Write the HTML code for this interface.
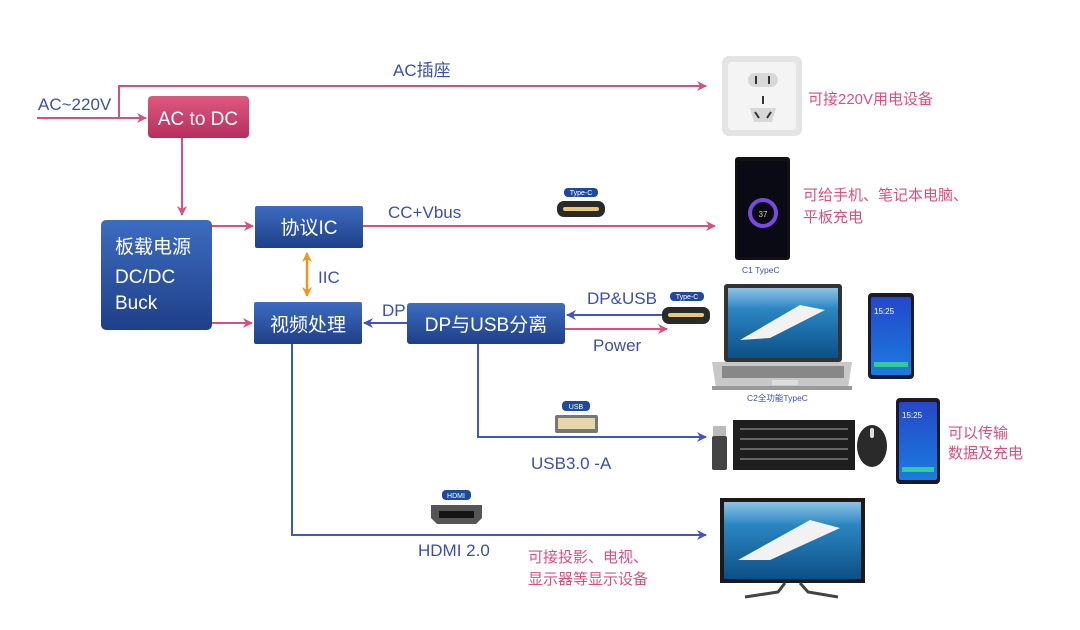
<!DOCTYPE html>
<html><head><meta charset="utf-8">
<style>
html,body{margin:0;padding:0;background:#fff;}
svg{display:block;}
text{font-family:"Liberation Sans","Noto Sans CJK SC",sans-serif;}
</style></head>
<body>
<svg width="1080" height="630" viewBox="0 0 1080 630" xmlns="http://www.w3.org/2000/svg">
<defs>
<linearGradient id="bl" x1="0" y1="0" x2="0" y2="1"><stop offset="0" stop-color="#3d6cc0"/><stop offset="1" stop-color="#1f3f88"/></linearGradient>
<linearGradient id="pk" x1="0" y1="0" x2="0" y2="1"><stop offset="0" stop-color="#e0587f"/><stop offset="1" stop-color="#b52f5e"/></linearGradient>
<linearGradient id="sea" x1="0" y1="0" x2="0" y2="1"><stop offset="0" stop-color="#8ec3e6"/><stop offset="0.3" stop-color="#2a86c2"/><stop offset="1" stop-color="#0d4f86"/></linearGradient>
<linearGradient id="ph" x1="0" y1="0" x2="0" y2="1"><stop offset="0" stop-color="#2448c8"/><stop offset="1" stop-color="#1b7be0"/></linearGradient>
<marker id="ap" markerWidth="10" markerHeight="10" refX="9" refY="5" orient="auto" markerUnits="userSpaceOnUse"><path d="M0,0 L10,5 L0,10 L3,5z" fill="#d9507e"/></marker>
<marker id="ab" markerWidth="10" markerHeight="10" refX="9" refY="5" orient="auto" markerUnits="userSpaceOnUse"><path d="M0,0 L10,5 L0,10 L3,5z" fill="#4256c0"/></marker>
<marker id="ao" markerWidth="10" markerHeight="10" refX="9" refY="5" orient="auto" markerUnits="userSpaceOnUse"><path d="M0,0 L10,5 L0,10 L3,5z" fill="#f0961e"/></marker>
</defs>

<!-- pink lines -->
<g stroke="#d9507e" stroke-width="2" fill="none">
<path d="M37,118 H146" marker-end="url(#ap)"/>
<path d="M119,118 V86 H706" marker-end="url(#ap)"/>
<path d="M182,138 V215" marker-end="url(#ap)"/>
<path d="M212,226 H253" marker-end="url(#ap)"/>
<path d="M212,323 H252" marker-end="url(#ap)"/>
<path d="M363,226 H715" marker-end="url(#ap)"/>
<path d="M565,329 H667" marker-end="url(#ap)"/>
</g>
<!-- blue lines -->
<g stroke="#4256c0" stroke-width="2" fill="none">
<path d="M665,315 H567" marker-end="url(#ab)"/>
<path d="M407,323 H364" marker-end="url(#ab)"/>
<path d="M478,344 V437 H706" marker-end="url(#ab)"/>
<path d="M292,344 V535 H706" marker-end="url(#ab)"/>
</g>
<path d="M307,272 V296" stroke="#f0961e" stroke-width="2.5" marker-end="url(#ao)"/>
<path d="M307,272 V253" stroke="#f0961e" stroke-width="2.5" marker-end="url(#ao)"/>

<!-- boxes -->
<rect x="148" y="96" width="101" height="42" rx="4" fill="url(#pk)"/>
<text x="198" y="125" fill="#fff" font-size="19" text-anchor="middle">AC to DC</text>
<rect x="101" y="220" width="111" height="110" rx="5" fill="url(#bl)"/>
<text x="115" y="253" fill="#fff" font-size="19">板载电源</text>
<text x="115" y="283" fill="#fff" font-size="19">DC/DC</text>
<text x="115" y="309" fill="#fff" font-size="19">Buck</text>
<rect x="255" y="206" width="108" height="42" rx="2" fill="url(#bl)"/>
<text x="309" y="234" fill="#fff" font-size="19" text-anchor="middle">协议IC</text>
<rect x="254" y="302" width="108" height="42" rx="2" fill="url(#bl)"/>
<text x="308" y="331" fill="#fff" font-size="19" text-anchor="middle">视频处理</text>
<rect x="407" y="303" width="158" height="41" rx="3" fill="url(#bl)"/>
<text x="486" y="331" fill="#fff" font-size="19" text-anchor="middle">DP与USB分离</text>

<!-- labels -->
<g fill="#3a4fb0" font-size="17">
<text x="38" y="110">AC~220V</text>
<text x="393" y="76">AC插座</text>
<text x="388" y="218">CC+Vbus</text>
<text x="318" y="283">IIC</text>
<text x="382" y="316">DP</text>
<text x="587" y="304">DP&amp;USB</text>
<text x="593" y="351">Power</text>
<text x="531" y="469">USB3.0 -A</text>
<text x="418" y="556">HDMI 2.0</text>
</g>
<g fill="#d9507e" font-size="15">
<text x="808" y="104">可接220V用电设备</text>
<text x="803" y="200">可给手机、笔记本电脑、</text>
<text x="803" y="222">平板充电</text>
<text x="948" y="438">可以传输</text>
<text x="948" y="458">数据及充电</text>
<text x="528" y="562">可接投影、电视、</text>
<text x="528" y="584">显示器等显示设备</text>
</g>
<g fill="#3a4fb0" font-size="8.5">
<text x="742" y="273">C1 TypeC</text>
<text x="747" y="401">C2全功能TypeC</text>
</g>

<!-- connectors -->
<rect x="564" y="188" width="34" height="9" rx="4" fill="#1d4a9c"/><text x="581" y="195" font-size="7" fill="#fff" text-anchor="middle">Type-C</text>
<rect x="557" y="201" width="48" height="16" rx="7" fill="#2a2a2a"/><rect x="563" y="207" width="36" height="4" rx="2" fill="#e8c876"/>
<rect x="670" y="292" width="34" height="9" rx="4" fill="#1d4a9c"/><text x="687" y="299" font-size="7" fill="#fff" text-anchor="middle">Type-C</text>
<rect x="662" y="307" width="48" height="17" rx="7" fill="#2a2a2a"/><rect x="668" y="313" width="36" height="4" rx="2" fill="#e8c876"/>
<rect x="562" y="401" width="28" height="10" rx="4" fill="#1d4a9c"/><text x="576" y="409" font-size="7" fill="#fff" text-anchor="middle">USB</text>
<rect x="555" y="415" width="43" height="18" rx="2" fill="#777"/><rect x="558" y="418" width="37" height="11" fill="#e6d6a8"/>
<rect x="442" y="490" width="29" height="10" rx="4" fill="#1d4a9c"/><text x="456" y="498" font-size="7" fill="#fff" text-anchor="middle">HDMI</text>
<path d="M431,505 H482 V518 L476,524 H437 L431,518z" fill="#555"/><rect x="439" y="511" width="35" height="7" fill="#151515"/>

<!-- outlet -->
<rect x="722" y="56" width="80" height="80" rx="7" fill="#e4e4e4"/>
<rect x="728" y="62" width="68" height="68" rx="4" fill="#f4f4f4"/>
<rect x="748" y="73" width="30" height="14" rx="7" fill="#d8d8d8"/>
<rect x="755" y="76" width="2" height="8" fill="#333"/><rect x="768" y="76" width="2" height="8" fill="#333"/>
<rect x="762" y="96" width="2" height="8" fill="#333"/>
<path d="M750,108 H776 L772,122 H754z" fill="#d8d8d8"/>
<path d="M755,112 l4,6" stroke="#333" stroke-width="2"/><path d="M771,112 l-4,6" stroke="#333" stroke-width="2"/>

<!-- phone C1 -->
<rect x="735" y="157" width="55" height="103" rx="3" fill="#111"/>
<rect x="738" y="161" width="49" height="96" fill="#0a0a14"/>
<circle cx="763" cy="213" r="13" fill="none" stroke="#7a4ae0" stroke-width="4"/>
<text x="763" y="217" font-size="8" fill="#ccc" text-anchor="middle">37</text>

<!-- laptop -->
<rect x="724" y="284" width="118" height="78" rx="3" fill="#333"/>
<rect x="728" y="288" width="110" height="70" fill="url(#sea)"/>
<path d="M740,340 L800,305 L825,310 L770,338z" fill="#f2f2f2"/>
<path d="M712,362 H852 L848,388 H716z" fill="#c8c8c8"/>
<rect x="722" y="366" width="122" height="12" fill="#888"/>
<rect x="772" y="380" width="26" height="5" fill="#ddd"/>
<rect x="712" y="386" width="140" height="4" fill="#999"/>

<!-- phones -->
<rect x="868" y="293" width="46" height="86" rx="4" fill="#1a1a2a"/><rect x="871" y="297" width="40" height="78" rx="2" fill="url(#ph)"/>
<text x="874" y="314" font-size="8" fill="#fff">15:25</text>
<rect x="874" y="362" width="34" height="5" fill="#3c9"/>
<rect x="896" y="398" width="44" height="86" rx="4" fill="#1a1a2a"/><rect x="899" y="402" width="38" height="78" rx="2" fill="url(#ph)"/>
<text x="902" y="418" font-size="8" fill="#fff">15:25</text>
<rect x="902" y="467" width="32" height="5" fill="#3c9"/>

<!-- dongle keyboard mouse -->
<rect x="713" y="426" width="13" height="10" fill="#bbb"/><rect x="712" y="436" width="15" height="34" rx="2" fill="#444"/>
<rect x="733" y="420" width="122" height="50" fill="#1e1e1e"/>
<g fill="#666"><rect x="740" y="428" width="108" height="2"/><rect x="740" y="438" width="108" height="2"/><rect x="740" y="448" width="108" height="2"/><rect x="740" y="458" width="108" height="2"/></g>
<ellipse cx="872" cy="446" rx="15" ry="21" fill="#2a2a2a"/><rect x="870" y="428" width="4" height="10" rx="2" fill="#ddd"/>

<!-- monitor -->
<rect x="720" y="498" width="145" height="85" fill="#1a1a1a"/>
<rect x="724" y="502" width="137" height="77" fill="url(#sea)"/>
<path d="M738,560 L810,520 L840,528 L770,560z" fill="#f2f2f2"/>
<path d="M785,583 L778,592 L745,597 M800,583 L808,592 L838,597" stroke="#444" stroke-width="3" fill="none"/>
</svg>
</body></html>
